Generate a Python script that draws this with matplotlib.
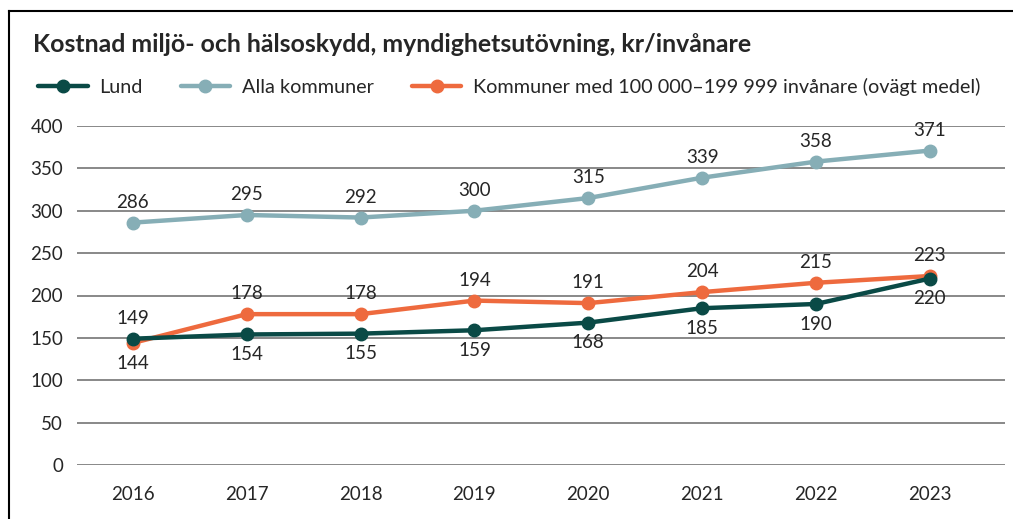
import matplotlib.pyplot as plt
from matplotlib.lines import Line2D

plt.rcParams['font.family'] = ['Lato', 'DejaVu Sans']

years = ['2016', '2017', '2018', '2019', '2020', '2021', '2022', '2023']
lund = [149, 154, 155, 159, 168, 185, 190, 220]
alla = [286, 295, 292, 300, 315, 339, 358, 371]
storlek = [144, 178, 178, 194, 191, 204, 215, 223]

# label placement per point: 1 = above, -1 = below
lund_pos = [1, -1, -1, -1, -1, -1, -1, -1]
alla_pos = [1] * 8
storlek_pos = [-1, 1, 1, 1, 1, 1, 1, 1]

c_lund = '#0A4A46'
c_alla = '#86AEB6'
c_storlek = '#EE6A3E'
txt = '#262626'

W, H = 1013, 519
fig = plt.figure(figsize=(W / 100, H / 100), dpi=100)
ax = fig.add_axes([77 / W, 1 - 465 / H, (1005 - 77) / W, (465 - 126) / H])

x = list(range(len(years)))
series = [
    ('Alla kommuner', alla, c_alla, alla_pos),
    ('Kommuner med 100 000–199 999 invånare (ovägt medel)', storlek, c_storlek, storlek_pos),
    ('Lund', lund, c_lund, lund_pos),
]
handles = {}
for i, (name, vals, col, pos) in enumerate(series):
    ln, = ax.plot(x, vals, color=col, lw=3.2, marker='o', ms=9, zorder=3 + i,
                  solid_capstyle='round', label=name)
    handles[name] = ln
    for xi, v, p in zip(x, vals, pos):
        ax.annotate(str(v), (xi, v), xytext=(0, 8.5 * p), textcoords='offset points',
                    ha='center', va='bottom' if p > 0 else 'top',
                    fontsize=13.5, color=txt, zorder=10)

ax.set_ylim(0, 400)
ax.set_yticks(range(0, 401, 50))
ax.set_xlim(-0.49, 7.66)
ax.set_xticks(x)
ax.set_xticklabels(years)
ax.grid(axis='y', color='#7F7F7F', lw=1.3)
ax.set_axisbelow(True)
for s in ax.spines.values():
    s.set_visible(False)
ax.tick_params(length=0, labelsize=13.5, labelcolor=txt)
ax.tick_params(axis='x', pad=15)
ax.tick_params(axis='y', pad=10)

fig.text(33 / W, 1 - 45 / H, 'Kostnad miljö- och hälsoskydd, myndighetsutövning, kr/invånare',
         fontsize=17.9, fontweight='bold', color=txt, va='center')

fig.legend([handles['Lund'], handles['Alla kommuner'],
            handles['Kommuner med 100 000–199 999 invånare (ovägt medel)']],
           ['Lund', 'Alla kommuner', 'Kommuner med 100 000–199 999 invånare (ovägt medel)'],
           loc='center left', bbox_to_anchor=(32 / W, 1 - 87 / H), ncol=3, frameon=False,
           fontsize=14.3, handlelength=2.5, columnspacing=1.9, handletextpad=0.6,
           labelcolor=txt, borderaxespad=0, borderpad=0.3)

# frame lines on the top and left edge
fig.add_artist(Line2D([9 / W, 1], [1 - 11 / H, 1 - 11 / H], color='black', lw=1.5))
fig.add_artist(Line2D([9 / W, 9 / W], [0, 1 - 11 / H], color='black', lw=1.5))

fig.savefig('out.png', dpi=100)
